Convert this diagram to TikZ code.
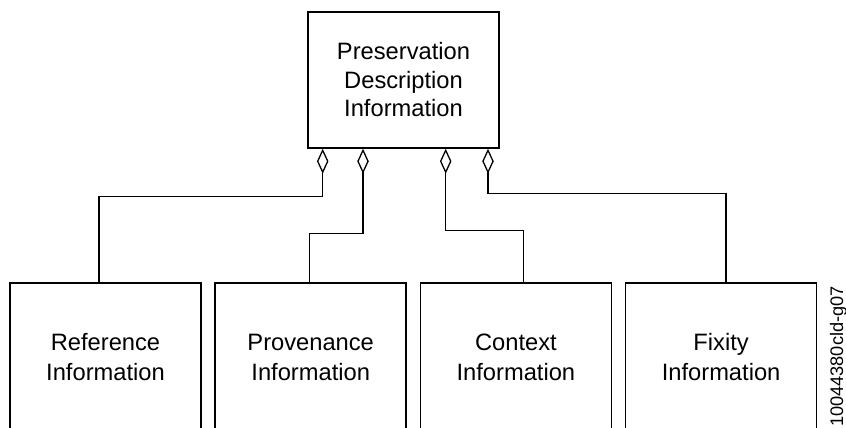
\documentclass[tikz,border=0pt]{standalone}
\usepackage{fontspec}
\setmainfont{Liberation Sans}
\usepackage{xcolor}
\usetikzlibrary{arrows.meta, positioning}

\begin{document}
\begin{tikzpicture}[
x=1pt, y=1pt,
node distance = 5mm and 12.7pt,
box/.style = {draw, line width=1.5pt, align=center, inner sep=0pt,
              minimum width=191pt,
              font=\fontsize{23.7}{30}\selectfont},
part/.style = {box, minimum height=148pt},
aggr/.style = {draw, line width=1.5pt,
               {Diamond[open, length=25pt, width=11.5pt, line width=1.3pt]}-},
                        ]
\useasboundingbox (0,0) rectangle (846,428);
\clip (0,0) rectangle (846,428);
\node (pdi) [box, minimum height=136pt, font=\fontsize{23.7}{28.5}\selectfont]
      at (403.5,348) {Preservation\\Description\\Information};
\node (ref)  [part] at (105.5,71) {Reference\\Information};
\node (prov) [part, right=of ref]  {Provenance\\Information};
\node (ctx)  [part, right=of prov] {Context\\Information};
\node (fix)  [part, right=of ctx]  {Fixity\\Information};
% aggregation links
\draw[aggr] ([xshift=-80.8pt]pdi.south) -- ++(0,-47.7) -| ([xshift=-6.5pt]ref.north);
\draw[aggr] ([xshift=-40.5pt]pdi.south) -- ++(0,-85) -| ([xshift=-1.2pt]prov.north);
\draw[aggr] ([xshift=42.2pt]pdi.south) -- ++(0,-82) -| ([xshift=7.5pt]ctx.north);
\draw[aggr] ([xshift=84.5pt]pdi.south) -- ++(0,-44.7) -| ([xshift=4.7pt]fix.north);
\node (tag) [rotate=90, anchor=base east, inner sep=0pt,
             font=\fontsize{18.2}{22}\selectfont] at (843,142) {10044380cld-g07};
   \end{tikzpicture}
\end{document}
